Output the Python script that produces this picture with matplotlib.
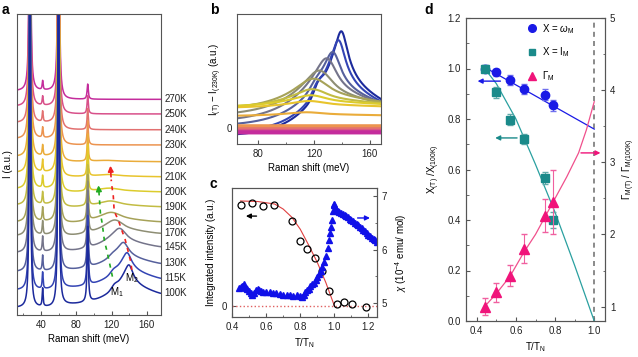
import numpy as np
import matplotlib.pyplot as plt
from matplotlib.transforms import blended_transform_factory
from matplotlib.lines import Line2D
from matplotlib.ticker import MultipleLocator

plt.rcParams['font.family'] = ['Liberation Sans', 'DejaVu Sans']
plt.rcParams['mathtext.fontset'] = 'custom'
plt.rcParams['mathtext.rm'] = 'Liberation Sans'
plt.rcParams['mathtext.it'] = 'Liberation Sans:italic'
plt.rcParams['font.size'] = 7
plt.rcParams['axes.edgecolor'] = '#555555'
plt.rcParams['axes.linewidth'] = 0.8
for ax_name in ['xtick', 'ytick']:
    plt.rcParams[ax_name + '.direction'] = 'in'
    plt.rcParams[ax_name + '.major.size'] = 3
    plt.rcParams[ax_name + '.minor.size'] = 1.8
    plt.rcParams[ax_name + '.color'] = '#555555'
    plt.rcParams[ax_name + '.labelcolor'] = '#222222'
    plt.rcParams[ax_name + '.labelsize'] = 7

# ---------------- panel a / b : Raman spectra ----------------
temps = ['100K', '115K', '130K', '145K', '170K', '180K', '190K', '200K',
         '210K', '220K', '230K', '240K', '250K', '270K']
colors = ['#1c2a9c', '#3344b4', '#56609c', '#74748a', '#8e8e74', '#a6a258',
          '#c2bc42', '#dccc2c', '#e8c42c', '#eaac3a', '#ec9450', '#e27070',
          '#d8508a', '#c42c9c']
levels = [1.44, 2.44, 3.43, 4.54, 5.43, 6.20, 7.20, 8.19, 9.19, 10.19,
          11.30, 12.31, 13.36, 14.33]
h42 = [1.2, 1.1, 1.0, 1.0, 0.9, 0.9, 0.8, 0.8, 0.8, 0.7, 0.7, 0.7, 0.6, 0.6]
h93 = [5.0, 4.6, 4.2, 3.8, 3.4, 3.0, 2.7, 2.4, 2.1, 1.8, 1.6, 1.4, 1.2, 1.0]
bg_amp = [-0.15, -0.1, -0.05, 0.0, 0.1, 0.15, 0.2, 0.25, 0.3, 0.35, 0.4,
          0.45, 0.5, 0.55]
# magnon part (in units of panel b)
mag_pos = [140, 138, 134, 130, 125, 121, 120, 119, 118, 116, 120, 120, 120, 120]
mag_top = [1.06, 0.97, 0.85, 0.80, 0.68, 0.58, 0.44, 0.36, 0.29, 0.17, 0.02,
           -0.01, -0.03, -0.04]
mag_low = [-0.08, -0.05, 0.02, 0.06, 0.12, 0.18, 0.20, 0.21, 0.20, 0.12, 0.02,
           -0.01, -0.03, -0.04]
mag_wl = [19, 19, 20, 22, 22, 22, 22, 22, 22, 22, 20, 20, 20, 20]
mag_smooth = [1.8, 2.0, 2.5, 3.5, 5, 6, 6, 6, 6, 6, 4, 4, 4, 4]
m1_pos = [123, 122, 121]
m1_h = [0.10, 0.08, 0.05]

# M1 / M2 tracking arrows in a
m2_track_x = [143, 141.5, 135.5, 131.5, 127.7, 123, 122, 120.3, 119.6]
m2_track_y = [3.0, 3.6, 5.0, 5.65, 6.3, 6.9, 7.9, 8.6, 9.0]
m1_track_x = [121, 118.3, 114.6, 112, 109.4, 107.5, 106.2]
m1_track_y = [2.55, 3.3, 4.3, 4.9, 6.1, 6.7, 7.8]

K_MAG = 2.6


def lor(x, x0, h, w):
    return h * w ** 2 / ((x - x0) ** 2 + w ** 2)


def smooth(y, dx, s):
    n = int(4 * s / dx)
    k = np.exp(-0.5 * (np.arange(-n, n + 1) * dx / s) ** 2)
    k /= k.sum()
    return np.convolve(np.pad(y, n, mode='edge'), k, mode='valid')


def magnon(x, i):
    d = x - mag_pos[i]
    h = mag_top[i] - mag_low[i]
    left = np.exp(np.minimum(d, 0) / mag_wl[i])
    dp = np.maximum(d, 0)
    right = 0.4 * np.exp(-dp / 5) + 0.6 * np.exp(-dp / 45)
    y = mag_low[i] + h * np.where(d < 0, left, right)
    if i < len(m1_h):
        y = y + m1_h[i] * np.exp(-0.5 * ((x - m1_pos[i]) / 2.5) ** 2)
    return smooth(y, x[1] - x[0], mag_smooth[i])


def spectrum(x, i):
    y = bg_amp[i] / (1 + np.exp((x - 61) / 1.5))
    y = y + lor(x, 27.6, 30, 0.7) + lor(x, 42, h42[i], 0.6)
    y = y + lor(x, 60, 30, 0.7) + lor(x, 93, h93[i], 0.8)
    y = y + K_MAG * magnon(x, i)
    return y


# ---------------- panel c ----------------
t_int = [0.451, 0.515, 0.583, 0.647, 0.754, 0.799, 0.840, 0.885, 0.927,
         0.968, 1.017, 1.056, 1.101, 1.187]
i_int = [1.0, 1.023, 0.99, 1.0, 0.844, 0.645, 0.562, 0.476, 0.347, 0.149,
         0.02, 0.034, 0.014, -0.016]
t_fit_c = [0.45, 0.55, 0.65, 0.70, 0.75, 0.80, 0.85, 0.90, 0.95, 1.0]
i_fit_c = [1.04, 1.035, 1.01, 0.96, 0.88, 0.76, 0.60, 0.43, 0.23, 0.0]
t_chi = [0.44, 0.45, 0.46, 0.47, 0.48, 0.49, 0.50, 0.51, 0.52, 0.53, 0.54,
         0.55, 0.56, 0.57, 0.58, 0.60, 0.62, 0.64, 0.66, 0.68, 0.70, 0.72,
         0.74, 0.76, 0.78, 0.80, 0.81, 0.82, 0.83, 0.84, 0.85, 0.86, 0.87,
         0.88, 0.89, 0.90, 0.91, 0.92, 0.93, 0.94, 0.95, 0.96, 0.97, 0.975,
         0.98, 0.985, 0.99, 0.995, 1.0, 1.005, 1.01, 1.02, 1.03, 1.04, 1.05,
         1.06, 1.07, 1.08, 1.09, 1.10, 1.11, 1.12, 1.13, 1.14, 1.15, 1.16,
         1.17, 1.18, 1.19, 1.20, 1.21, 1.22, 1.23, 1.24, 1.25]
chi = [5.28, 5.30, 5.31, 5.35, 5.28, 5.26, 5.22, 5.18, 5.15, 5.19, 5.25,
       5.27, 5.24, 5.22, 5.21, 5.21, 5.20, 5.19, 5.18, 5.17, 5.16, 5.15,
       5.15, 5.14, 5.15, 5.13, 5.11, 5.15, 5.20, 5.24, 5.27, 5.31, 5.35,
       5.38, 5.43, 5.48, 5.54, 5.60, 5.67, 5.77, 5.88, 6.02, 6.18, 6.30,
       6.42, 6.55, 6.72, 6.86, 6.84, 6.76, 6.74, 6.72, 6.70, 6.68, 6.66,
       6.64, 6.62, 6.60, 6.58, 6.56, 6.53, 6.50, 6.48, 6.45, 6.42, 6.40,
       6.37, 6.34, 6.31, 6.28, 6.25, 6.22, 6.20, 6.18, 6.15]

# ---------------- panel d ----------------
t_d = [0.44, 0.50, 0.57, 0.64, 0.75, 0.79]
omega = [1.0, 0.985, 0.955, 0.92, 0.897, 0.855]
omega_err = [0.015, 0.015, 0.02, 0.02, 0.022, 0.022]
intens = [1.0, 0.905, 0.798, 0.72, 0.567, 0.40]
intens_err = [0.012, 0.02, 0.022, 0.02, 0.025, 0.03]
gamma = [1.0, 1.2, 1.43, 1.8, 2.26, 2.45]
gamma_err = [0.12, 0.13, 0.15, 0.2, 0.23, 0.45]
t_fit_omega = [0.44, 1.0]
omega_fit = [1.005, 0.76]
t_fit_int = [0.44, 0.5, 0.6, 0.7, 0.8, 0.9, 1.0]
int_fit = [1.0, 0.94, 0.80, 0.62, 0.43, 0.22, 0.0]
t_fit_gam = [0.44, 0.5, 0.57, 0.64, 0.7, 0.75, 0.8, 0.86, 0.92, 0.96, 1.0]
gam_fit = [1.0, 1.18, 1.42, 1.75, 2.0, 2.25, 2.5, 2.8, 3.13, 3.45, 3.84]

W, H = 638, 357
fig = plt.figure(figsize=(W / 100, H / 100), dpi=100)


def box(l, t, r, b):
    return [l / W, 1 - b / H, (r - l) / W, (b - t) / H]


# ---------- a ----------
ax_a = fig.add_axes(box(17, 14, 161, 315))
x = np.linspace(13, 176, 3000)
for i in range(len(temps) - 1, -1, -1):
    y = spectrum(x, i)
    ax_a.plot(x, levels[i] + y - y[-1], color=colors[i], lw=1.1)
tr = blended_transform_factory(ax_a.transAxes, ax_a.transData)
for i, t in enumerate(temps):
    ax_a.text(1.025, levels[i], t, transform=tr, va='center', ha='left',
              fontsize=7, color='#222222')
ax_a.plot(m2_track_x, m2_track_y, color='#ee2222', lw=1.2, ls=(0, (2.5, 3)))
ax_a.annotate('', xy=(118.6, 10.1), xytext=(119.6, 9.0),
              arrowprops=dict(arrowstyle='-|>', color='#ee2222', lw=1.2,
                              mutation_scale=8))
ax_a.plot(m1_track_x, m1_track_y, color='#22aa22', lw=1.2, ls=(0, (2.5, 3)))
ax_a.annotate('', xy=(105.0, 8.8), xytext=(106.2, 7.8),
              arrowprops=dict(arrowstyle='-|>', color='#22aa22', lw=1.2,
                              mutation_scale=8))
ax_a.text(126.6, 1.55, r'M$_1$', fontsize=7, ha='center', va='center')
ax_a.text(143.4, 2.44, r'M$_2$', fontsize=7, ha='center', va='center')
ax_a.set_xlim(13, 176)
ax_a.set_ylim(0, 20)
ax_a.set_yticks([])
ax_a.set_xticks([40, 80, 120, 160])
ax_a.xaxis.set_minor_locator(MultipleLocator(20))
ax_a.set_xlabel('Raman shift (meV)', labelpad=3)
ax_a.set_ylabel('I (a.u.)', labelpad=3)

# ---------- b ----------
ax_b = fig.add_axes(box(237, 14, 381, 144))
xb = np.linspace(50, 185, 1500)
for i in range(len(temps)):
    lw = 3.0 if i >= 10 else 1.5
    ax_b.plot(xb, magnon(xb, i), color=colors[i], lw=lw)
ax_b.set_xlim(64.7, 168)
ax_b.set_ylim(-0.155, 1.13)
ax_b.set_yticks([0])
ax_b.set_xticks([80, 120, 160])
ax_b.xaxis.set_minor_locator(MultipleLocator(20))
ax_b.set_xlabel('Raman shift (meV)', labelpad=3)
ax_b.set_ylabel(r'I$_{\rm (T)}$ $-$ I$_{\rm (230K)}$ (a.u.)', labelpad=2)

# ---------- c ----------
ax_c = fig.add_axes(box(232, 188, 377, 317))
ax_c2 = ax_c.twinx()
ax_c.axhline(0, color='#e06060', ls=':', lw=1.0)
ax_c.plot(t_fit_c, i_fit_c, color='#e04040', lw=0.8)
ax_c.plot(t_int, i_int, 'o', mfc='none', mec='black', ms=5, mew=0.9)
ax_c2.plot(t_chi, chi, '^', color='#1010e8', ms=4, ls='none')
ax_c.annotate('', xy=(0.465, 0.89), xytext=(0.56, 0.89),
              arrowprops=dict(arrowstyle='-|>', color='black', lw=1.0,
                              mutation_scale=7))
ax_c2.annotate('', xy=(1.225, 6.59), xytext=(1.12, 6.59),
               arrowprops=dict(arrowstyle='-|>', color='#1010e8', lw=1.0,
                               mutation_scale=7))
ax_c.set_xlim(0.4, 1.25)
ax_c.set_ylim(-0.112, 1.169)
ax_c.set_yticks([0])
ax_c.set_xticks([0.4, 0.6, 0.8, 1.0, 1.2])
ax_c.xaxis.set_minor_locator(MultipleLocator(0.1))
ax_c2.set_ylim(4.74, 7.15)
ax_c2.set_yticks([5, 6, 7])
ax_c2.yaxis.set_minor_locator(MultipleLocator(0.5))
ax_c.set_xlabel(r'T/T$_{\rm N}$', labelpad=3)
ax_c.set_ylabel('Integrated intensity (a.u.)', labelpad=4)
ax_c2.set_ylabel(r'$\chi$ (10$^{-4}$ emu/ mol)', labelpad=4)

# ---------- d ----------
ax_d = fig.add_axes(box(466, 18, 605, 321))
ax_d2 = ax_d.twinx()
blue, teal, pink = '#1a1ae6', '#1a8a8a', '#f0147a'
ax_d.axvline(1.0, color='#777777', ls=(0, (3, 2.5)), lw=1.2)
ax_d.plot(t_fit_omega, omega_fit, color=blue, lw=0.9)
ax_d.plot(t_fit_int, int_fit, color='#2aa0a0', lw=0.9)
ax_d2.plot(t_fit_gam, gam_fit, color='#f0508c', lw=0.9)
ax_d.errorbar(t_d, omega, yerr=omega_err, fmt='o', color=blue, ms=6,
              ecolor='#7070ee', elinewidth=0.8, capsize=2.5)
ax_d.errorbar(t_d, intens, yerr=intens_err, fmt='s', color=teal, ms=5.5,
              ecolor='#60aaaa', elinewidth=0.8, capsize=2.5)
ax_d2.errorbar(t_d, gamma, yerr=gamma_err, fmt='^', color=pink, ms=6.5,
               ecolor='#f060a0', elinewidth=0.8, capsize=2.5)
ax_d.annotate('', xy=(0.39, 0.95), xytext=(0.535, 0.95),
              arrowprops=dict(arrowstyle='-|>', color=blue, lw=1.0,
                              mutation_scale=7))
ax_d.annotate('', xy=(0.48, 0.725), xytext=(0.62, 0.725),
              arrowprops=dict(arrowstyle='-|>', color=teal, lw=1.0,
                              mutation_scale=7))
ax_d2.annotate('', xy=(1.046, 3.13), xytext=(0.918, 3.13),
               arrowprops=dict(arrowstyle='-|>', color=pink, lw=1.0,
                               mutation_scale=7))
handles = [Line2D([], [], marker='o', color=blue, ls='none', ms=5.5),
           Line2D([], [], marker='s', color=teal, ls='none', ms=5),
           Line2D([], [], marker='^', color=pink, ls='none', ms=5.5)]
labels = [r'X = $\omega_{\rm M}$', r'X = I$_{\rm M}$', r'$\mathit{\Gamma}_{\rm M}$']
ax_d.legend(handles, labels, loc='upper left', bbox_to_anchor=(0.41, 1.0),
            frameon=False, borderaxespad=0, handlelength=1.0,
            handletextpad=0.6, labelspacing=1.0, fontsize=7)
ax_d.set_xlim(0.345, 1.055)
ax_d.set_ylim(0, 1.2)
ax_d.set_xticks([0.4, 0.6, 0.8, 1.0])
ax_d.xaxis.set_minor_locator(MultipleLocator(0.1))
ax_d.set_yticks([0.0, 0.2, 0.4, 0.6, 0.8, 1.0, 1.2])
ax_d.yaxis.set_minor_locator(MultipleLocator(0.1))
ax_d2.set_ylim(0.8, 5)
ax_d2.set_yticks([1, 2, 3, 4, 5])
ax_d2.yaxis.set_minor_locator(MultipleLocator(0.5))
ax_d.set_xlabel(r'T/T$_{\rm N}$', labelpad=3)
ax_d.set_ylabel(r'X$_{\rm (T)}$ /X$_{\rm (100K)}$', labelpad=4)
ax_d2.set_ylabel(r'$\mathit{\Gamma}_{\rm M(T)}$ / $\mathit{\Gamma}_{\rm M(100K)}$',
                 labelpad=4)

for lab, xx, yy in [('a', 2, 3), ('b', 210, 3), ('c', 210, 177), ('d', 424, 3)]:
    fig.text(xx / W, 1 - yy / H, lab, fontsize=10, fontweight='bold',
             va='top', ha='left')

fig.savefig('out.png', dpi=100)
